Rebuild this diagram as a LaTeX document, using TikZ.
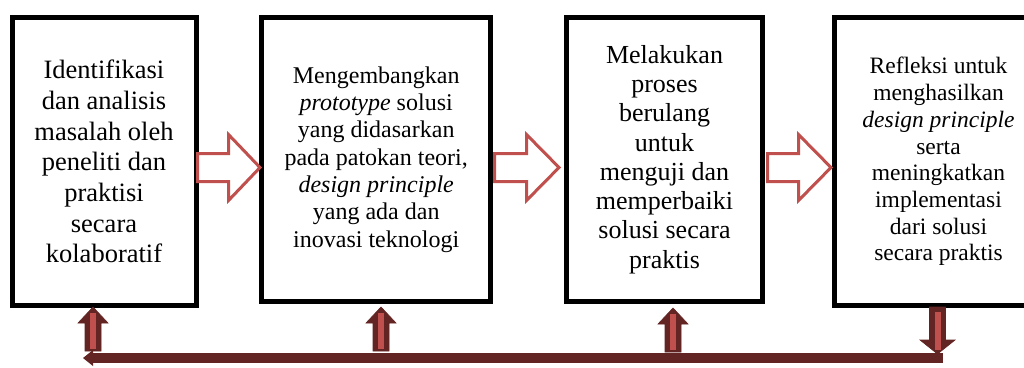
\documentclass[tikz,border=0pt]{standalone}
\usepackage{fontspec}
\setmainfont{Liberation Serif}
\definecolor{arrred}{HTML}{C0504D}
\definecolor{darkred}{HTML}{632523}
\tikzset{
  stepbox/.style={draw=black, line width=5pt, fill=white, align=center, inner sep=0pt},
  rblk/.style={draw=arrred, line width=3pt, fill=white, line join=miter},
  vblk/.style={fill=darkred, draw=darkred, line width=0.6pt},
  vstripe/.style={fill=arrred},
  pics/uparr/.style={code={
    \draw[vblk] (-8,44) -- (-8,16) -- (-15,16) -- (0,0) -- (15,16) -- (8,16) -- (8,44) -- cycle;
    \fill[vstripe] (-2.75,6) rectangle (2.75,42);
  }},
  pics/downarr/.style={code={
    \draw[vblk] (-8,0) -- (8,0) -- (8,33) -- (17.5,33) -- (0,47) -- (-17.5,33) -- (-8,33) -- cycle;
    \fill[vstripe] (-3,5) rectangle (3,43);
  }}
}
\begin{document}
\begin{tikzpicture}[x=1pt, y=-1pt]
\useasboundingbox (0,0) rectangle (1024,367);
\clip (0,0) rectangle (1024,367);
\fill[white] (0,0) rectangle (1024,367);

% boxes
\node[stepbox, minimum width=184pt, minimum height=287.7pt,
      font=\fontsize{26.5}{30.7}\selectfont] (b1) at (104,161.6)
  {Identifikasi\\dan analisis\\masalah oleh\\peneliti dan\\praktisi\\secara\\kolaboratif};
\node[stepbox, minimum width=228.5pt, minimum height=283.2pt,
      font=\fontsize{24}{27.3}\selectfont] (b2) at (376.2,159.4)
  {Mengembangkan\\\textit{prototype} solusi\\yang didasarkan\\pada patokan teori,\\\textit{design principle}\\yang ada dan\\inovasi teknologi};
\node[stepbox, minimum width=196pt, minimum height=283.2pt,
      font=\fontsize{26}{29.3}\selectfont] (b3) at (664.5,159.4)
  {Melakukan\\proses\\berulang\\untuk\\menguji dan\\memperbaiki\\solusi secara\\praktis};
\node[stepbox, minimum width=209pt, minimum height=287.7pt,
      font=\fontsize{23.5}{26.7}\selectfont] (b4) at (938.5,161.6)
  {Refleksi untuk\\menghasilkan\\\textit{design principle}\\serta\\meningkatkan\\implementasi\\dari solusi\\secara praktis};

% right block arrows
\draw[rblk] (197.5,153.5) -- (228.5,153.5) -- (228.5,134.5) -- (260,167.5) -- (228.5,200.5) -- (228.5,181.5) -- (197.5,181.5) -- cycle;
\draw[rblk] (494.5,153.5) -- (526.5,153.5) -- (526.5,134.5) -- (559,167.5) -- (526.5,200.5) -- (526.5,181.5) -- (494.5,181.5) -- cycle;
\draw[rblk] (767.5,153.5) -- (798.5,153.5) -- (798.5,134.5) -- (831,167.5) -- (798.5,200.5) -- (798.5,181.5) -- (767.5,181.5) -- cycle;

% bottom feedback bar
\coordinate (barR) at (943,358);
\coordinate (barL) at (83,358);
\fill[darkred] (93,353) rectangle (barR |- 0,363);
\fill[darkred] (93,350) -- (barL) -- (93,366) -- cycle;

% vertical arrows
\pic at (93,307) {uparr};
\pic at (381,307) {uparr};
\pic at (673,308) {uparr};
\pic at (937.5,307) {downarr};
\end{tikzpicture}
\end{document}
